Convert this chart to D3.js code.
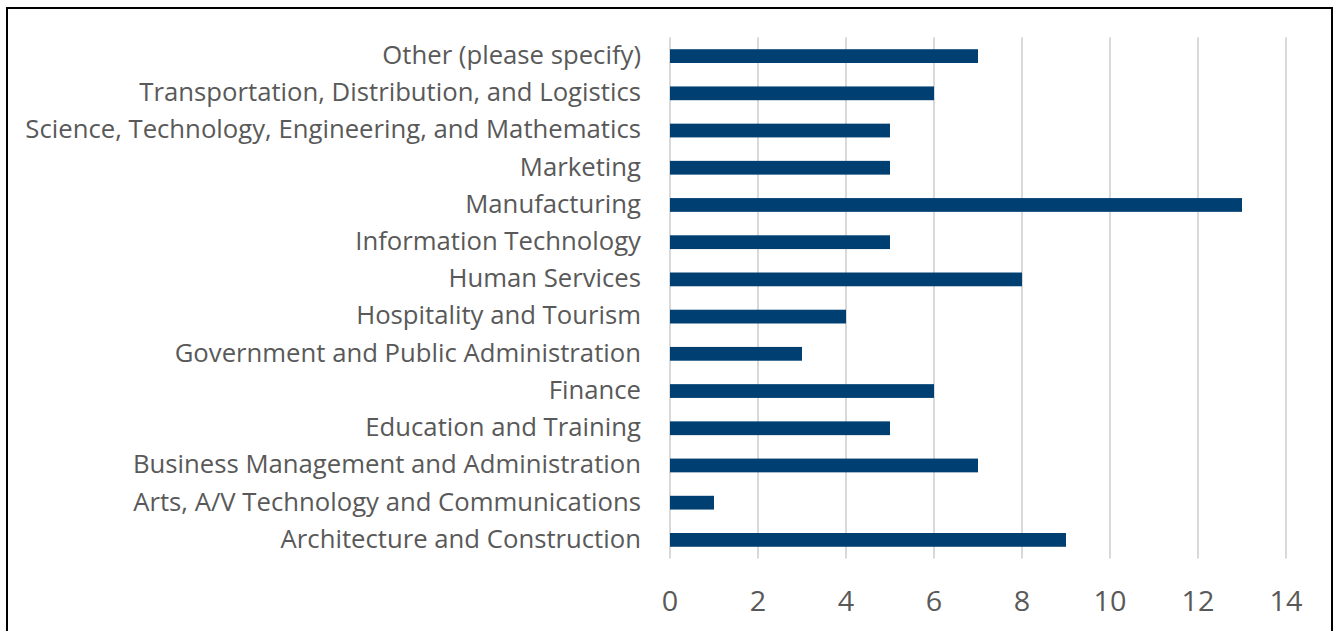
<!DOCTYPE html>
<html>
<head>
<meta charset="utf-8">
<script src="https://cdn.jsdelivr.net/npm/d3@7"></script>
<style>
  body { margin: 0; background: #fff; }
  svg text { font-family: "Open Sans", "Noto Sans", sans-serif; fill: #595959; }
</style>
</head>
<body>
<div id="chart"></div>
<script>
var width = 1335,
  height = 631;

var categories = [
  "Other (please specify)",
  "Transportation, Distribution, and Logistics",
  "Science, Technology, Engineering, and Mathematics",
  "Marketing",
  "Manufacturing",
  "Information Technology",
  "Human Services",
  "Hospitality and Tourism",
  "Government and Public Administration",
  "Finance",
  "Education and Training",
  "Business Management and Administration",
  "Arts, A/V Technology and Communications",
  "Architecture and Construction"
];
var values = [7, 6, 5, 5, 13, 5, 8, 4, 3, 6, 5, 7, 1, 9];
var tickValues = [0, 2, 4, 6, 8, 10, 12, 14];

var svg = d3.select("#chart").append("svg")
  .attr("width", width)
  .attr("height", height);

// chart frame
svg.append("rect")
  .attr("x", 7).attr("y", 8)
  .attr("width", 1325).attr("height", 640)
  .attr("fill", "none")
  .attr("stroke", "#000")
  .attr("stroke-width", 2);

var x = d3.scaleLinear().domain([0, 14]).range([670, 1286]);
var y = d3.scaleBand().domain(categories).range([37.5, 558.5]).paddingInner(0.63).paddingOuter(0.315);

// gridlines
svg.selectAll(".grid").data(tickValues).enter().append("line")
  .attr("class", "grid")
  .attr("x1", function (d) { return x(d); })
  .attr("x2", function (d) { return x(d); })
  .attr("y1", 37.5).attr("y2", 558.5)
  .attr("stroke", "#d9d9d9")
  .attr("stroke-width", 2);

// bars
svg.selectAll(".bar").data(values).enter().append("rect")
  .attr("class", "bar")
  .attr("x", x(0))
  .attr("y", function (d, i) { return y(categories[i]); })
  .attr("width", function (d) { return x(d) - x(0); })
  .attr("height", y.bandwidth())
  .attr("fill", "#003f72");

// category labels
var labels = svg.selectAll(".cat").data(categories).enter().append("text")
  .attr("class", "cat")
  .attr("text-anchor", "end")
  .attr("dominant-baseline", "central")
  .attr("font-size", 25)
  .text(function (d) { return d; });

// squeeze labels to the narrow look of the original font
var longest = d3.max(labels.nodes(), function (n) { return n.getComputedTextLength(); });
var sx = 616 / longest;
labels.attr("transform", function (d) {
  return "translate(641," + (y(d) + y.bandwidth() / 2 - 2) + ") scale(" + sx + ",1)";
});

// x axis labels
svg.selectAll(".tick-label").data(tickValues).enter().append("text")
  .attr("class", "tick-label")
  .attr("text-anchor", "middle")
  .attr("font-size", 28)
  .attr("transform", function (d) { return "translate(" + x(d) + ",611) scale(" + sx + ",1)"; })
  .text(function (d) { return d; });
</script>
</body>
</html>
